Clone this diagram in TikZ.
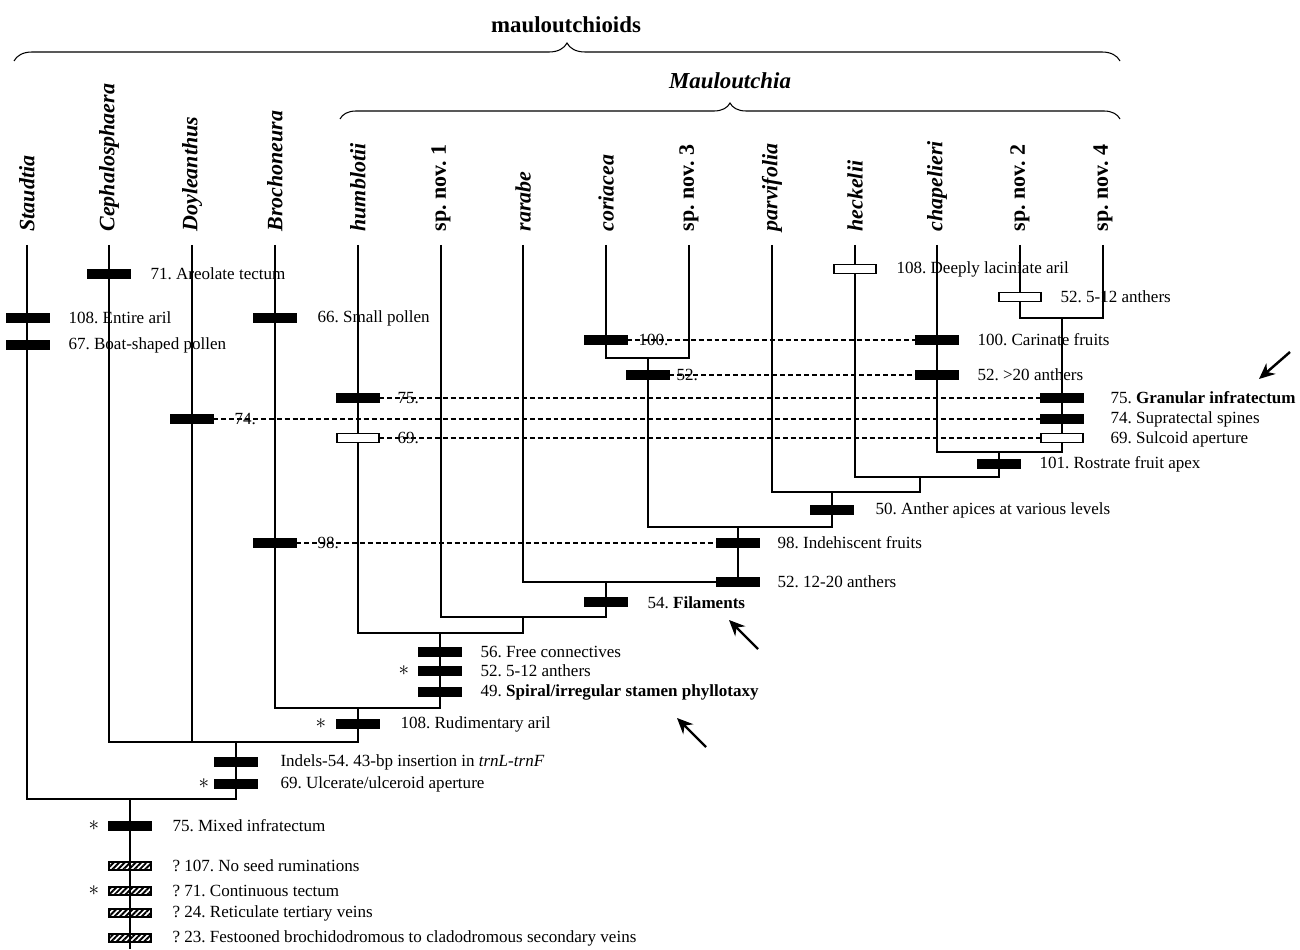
\documentclass[tikz,border=0pt]{standalone}
\usepackage{fontspec}
\setmainfont{Liberation Serif}
\frenchspacing
\usetikzlibrary{arrows.meta,patterns.meta,decorations.pathreplacing}

\tikzset{
  taxon/.style={rotate=90, anchor=west, inner sep=0pt, font=\fontsize{12.5}{14}\selectfont\bfseries},
  clade/.style={inner sep=0pt, font=\fontsize{13}{15}\selectfont\bfseries},
  barbase/.style={draw=black, line width=0.6pt, minimum width=0.84cm, minimum height=0.19cm, inner sep=0pt},
  syn/.style={barbase, fill=black},
  homo/.style={barbase, fill=white},
  unk/.style={barbase, minimum height=0.16cm, pattern={Lines[angle=45,distance=2.2pt,line width=1.1pt]}},
  chr/.style={anchor=west, inner sep=0pt, font=\fontsize{9.7}{11}\selectfont},
  star/.style={inner sep=0pt, font=\fontsize{13}{13}\selectfont},
  conv/.style={line width=0.6pt, dash pattern=on 2.8pt off 1.7pt},
  hint/.style={line width=1.4pt, -{Stealth[length=9pt,width=8pt]}},
}

\begin{document}
\begin{tikzpicture}[x=0.02cm, y=-0.02cm, line width=0.6pt]
  \useasboundingbox (0,0) rectangle (1300,949);

  % Clade braces
  \node[clade] (mlt) at (566,25) {mauloutchioids};
  \draw[decorate, decoration={brace, amplitude=0.36cm}] (14,61) -- (1120,61);
  \node[clade, font=\fontsize{13}{15}\selectfont\bfseries\itshape] (mau) at (730,81) {Mauloutchia};
  \draw[decorate, decoration={brace, amplitude=0.32cm}] (340,119) -- (1120,119);

  % Terminal taxa
  \foreach \x/\tn/\lab in {27/sta/\textit{Staudtia}, 109/cep/\textit{Cephalosphaera},
      192/doy/\textit{Doyleanthus}, 275/bro/\textit{Brochoneura}, 358/hum/\textit{humblotii},
      441/sp1/sp. nov. 1, 523/rar/\textit{rarabe}, 606/cor/\textit{coriacea}, 689/sp3/sp. nov. 3,
      772/par/\textit{parvifolia}, 855/hec/\textit{heckelii}, 937/cha/\textit{chapelieri},
      1020/sp2/sp. nov. 2, 1103/sp4/sp. nov. 4} {
    \coordinate (\tn) at (\x,245);
    \node[taxon] (\tn-lab) at (\x,232) {\lab};
  }

  % Internal nodes
  \coordinate (n24) at (1062,318);
  \coordinate (nch) at (999,452);
  \coordinate (nhe) at (920,477);
  \coordinate (npa) at (832,492);
  \coordinate (nco) at (648,358);
  \coordinate (nmid) at (738,527);
  \coordinate (nra) at (606,582);
  \coordinate (ns1) at (523,617);
  \coordinate (nhu) at (440,633);
  \coordinate (nbr) at (358,708);
  \coordinate (npol) at (236,742);
  \coordinate (nroot) at (130,799);
  \coordinate (base) at (130,949);

  % Branches
  \foreach \c/\p in {sta/nroot, cep/npol, doy/npol, bro/nbr, hum/nhu, sp1/ns1, rar/nra,
      cor/nco, sp3/nco, par/npa, hec/nhe, cha/nch, sp2/n24, sp4/n24, n24/nch, nch/nhe,
      nhe/npa, npa/nmid, nco/nmid, nmid/nra, nra/ns1, ns1/nhu, nhu/nbr, nbr/npol,
      npol/nroot, nroot/base} {
    \draw (\c) |- (\p);
  }

  % Character changes
  \node[syn] (b71) at (109,274) {};
  \node[chr] (t71) at (150,274) {71. Areolate tectum};
  \node[syn] (b108e) at (28,318) {};
  \node[chr] (t108e) at (68,318) {108. Entire aril};
  \node[syn] (b67) at (28,345) {};
  \node[chr] (t67) at (68,345) {67. Boat-shaped pollen};
  \node[syn] (b66) at (275,318) {};
  \node[chr] (t66) at (317,318) {66. Small pollen};
  \node[homo] (b108d) at (855,269) {};
  \node[chr] (t108d) at (896,269) {108. Deeply laciniate aril};
  \node[homo] (b52s) at (1020,297) {};
  \node[chr] (t52s) at (1060,297) {52. 5-12 anthers};
  \node[syn] (b101) at (999,464) {};
  \node[chr] (t101) at (1039,464) {101. Rostrate fruit apex};
  \node[syn] (b50) at (832,510) {};
  \node[chr] (t50) at (875,510) {50. Anther apices at various levels};
  \node[syn] (b52m) at (738,582) {};
  \node[chr] (t52m) at (777,582) {52. 12-20 anthers};
  \node[syn] (b54) at (606,602) {};
  \node[chr] (t54) at (647,603) {54. \textbf{Filaments}};
  \node[syn] (b56) at (440,652) {};
  \node[chr] (t56) at (480,652) {56. Free connectives};
  \node[syn] (b52f) at (440,671) {};
  \node[chr] (t52f) at (480,671) {52. 5-12 anthers};
  \node[syn] (b49) at (440,692) {};
  \node[chr] (t49) at (480,692) {49. \textbf{Spiral/irregular stamen phyllotaxy}};
  \node[syn] (b108r) at (358,724) {};
  \node[chr] (t108r) at (400,724) {108. Rudimentary aril};
  \node[syn] (bind) at (236,762) {};
  \node[chr] (tind) at (280,762) {Indels-54. 43-bp insertion in \textit{trnL-trnF}};
  \node[syn] (b69u) at (236,784) {};
  \node[chr] (t69u) at (280,784) {69. Ulcerate/ulceroid aperture};
  \node[syn] (b75m) at (130,826) {};
  \node[chr] (t75m) at (172,826) {75. Mixed infratectum};

  % Ambiguous changes
  \foreach \y/\tn/\lab in {866/h107/? 107. No seed ruminations, 891/h71/? 71. Continuous tectum,
      913/h24/? 24. Reticulate tertiary veins,
      938/h23/? 23. Festooned brochidodromous to cladodromous secondary veins} {
    \node[unk] (\tn) at (130,\y) {};
    \node[chr] (\tn-t) at (172,\y) {\lab};
  }

  % Parallel changes
  \node[syn] (b100c) at (606,340) {};
  \node[syn] (b100r) at (937,340) {};
  \draw[conv] (b100c.east) -- (b100r.west);
  \node[chr] (t100c) at (638,340) {100.};
  \node[chr] (t100r) at (977,340) {100. Carinate fruits};

  \node[syn] (b52c) at (648,375) {};
  \node[syn] (b52r) at (937,375) {};
  \draw[conv] (b52c.east) -- (b52r.west);
  \node[chr] (t52c) at (676,375) {52.};
  \node[chr] (t52r) at (977,375) {52. >20 anthers};

  \node[syn] (b75h) at (358,398) {};
  \node[syn] (b75r) at (1062,398) {};
  \draw[conv] (b75h.east) -- (b75r.west);
  \node[chr] (t75h) at (397,398) {75.};
  \node[chr] (t75r) at (1110,398) {75. \textbf{Granular infratectum}};

  \node[syn] (b74d) at (192,419) {};
  \node[syn] (b74r) at (1062,419) {};
  \draw[conv] (b74d.east) -- (b74r.west);
  \node[chr] (t74d) at (234,419) {74.};
  \node[chr] (t74r) at (1110,419) {74. Supratectal spines};

  \node[homo] (b69h) at (358,438) {};
  \node[homo] (b69r) at (1062,438) {};
  \draw[conv] (b69h.east) -- (b69r.west);
  \node[chr] (t69h) at (397,438) {69.};
  \node[chr] (t69r) at (1110,439) {69. Sulcoid aperture};

  \node[syn] (b98b) at (275,543) {};
  \node[syn] (b98r) at (738,543) {};
  \draw[conv] (b98b.east) -- (b98r.west);
  \node[chr] (t98b) at (317,543) {98.};
  \node[chr] (t98r) at (777,543) {98. Indehiscent fruits};

  % Asterisks
  \foreach \x/\y/\tn in {404/671/s52, 321/724/s108, 204/784/s69, 94/826/s75, 94/891/s71} {
    \node[star] (\tn) at (\x,\y) {$\ast$};
  }

  % Arrows
  \coordinate (a1s) at (1290,352);
  \coordinate (a1e) at (1259,379);
  \coordinate (a2s) at (758,649);
  \coordinate (a2e) at (729,620);
  \coordinate (a3s) at (706,747);
  \coordinate (a3e) at (677,718);
  \draw[hint] (a1s) -- (a1e);
  \draw[hint] (a2s) -- (a2e);
  \draw[hint] (a3s) -- (a3e);
\end{tikzpicture}
\end{document}
